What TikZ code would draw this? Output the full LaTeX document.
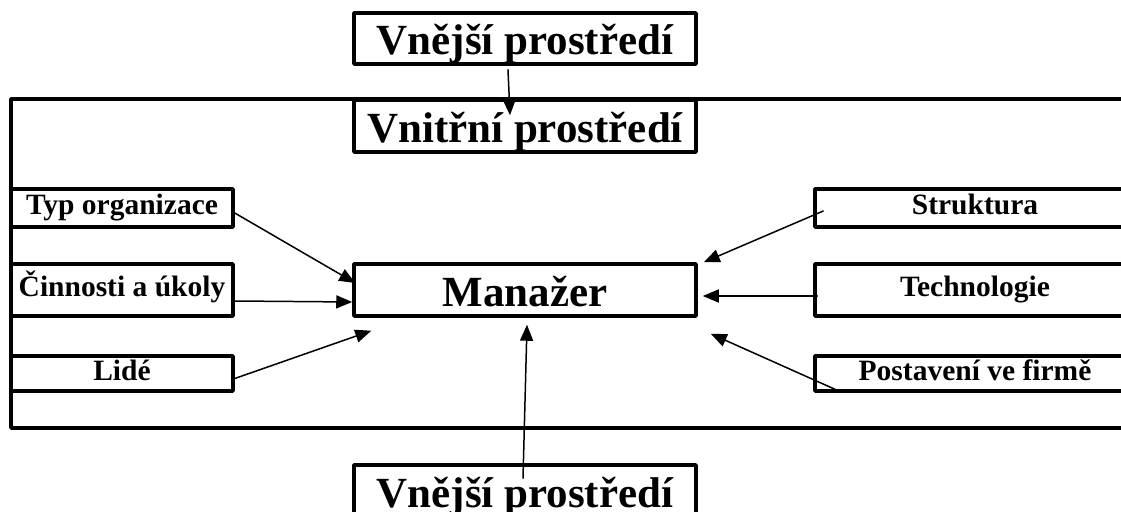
\documentclass[tikz,border=0pt]{standalone}
\usepackage{fontspec}
\setmainfont{Liberation Serif}
\usetikzlibrary{arrows.meta}
\tikzset{
  malybox/.style={draw,line width=3.5bp,inner sep=0pt,text height=20bp,text depth=6bp,
    font=\fontsize{29.5bp}{34bp}\selectfont\bfseries},
  velkybox/.style={draw,line width=3.5bp,inner sep=0pt,text height=33bp,text depth=0bp,
    font=\fontsize{43bp}{48bp}\selectfont\bfseries},
  sipka/.style={->,line width=1.5bp}
}
\begin{document}
\begin{tikzpicture}[x=1bp,y=-1bp,line cap=round,line join=round,>={Triangle[length=16bp,width=13bp]}]
        \useasboundingbox (0,0) rectangle (1121,512);
        \clip (0,0) rectangle (1121,512);
        % vnitrni prostredi
        \draw[line width=3.5bp] (11,99) rectangle (1140,428);
        \node[velkybox,minimum width=342bp,minimum height=51bp] (vnejsi) at (525,38.5) {Vnější prostředí};
        \node[velkybox,minimum width=342bp,minimum height=52bp] (vnitrni) at (525,126) {Vnitřní prostředí};
        \node[velkybox,minimum width=342bp,minimum height=52bp] (manazer) at (525,290) {Manažer};
        \node[velkybox,minimum width=342bp,minimum height=52bp] (vnejsidole) at (525,491) {Vnější prostředí};
        % vlevo
        \node[malybox,minimum width=222bp,minimum height=38bp] (typ) at (122,208) {Typ organizace};
        \node[malybox,minimum width=222bp,minimum height=52bp] (cinnosti) at (122,290) {Činnosti a úkoly};
        \node[malybox,minimum width=222bp,minimum height=35bp] (lide) at (122,373.5) {Lidé};
        % vpravo
        \node[malybox,minimum width=320bp,minimum height=38bp] (struktura) at (975,208) {Struktura};
        \node[malybox,minimum width=320bp,minimum height=52bp] (technologie) at (975,290) {Technologie};
        \node[malybox,minimum width=320bp,minimum height=35bp] (postaveni) at (975,373.5) {Postavení ve firmě};
        % sipky
        \draw[sipka] ([xshift=-17bp,yshift=-4bp]vnejsi.south) -- ([xshift=-15bp,yshift=-17bp]vnitrni.north);
        \draw[sipka] ([yshift=-5bp]typ.east) -- ([xshift=3bp,yshift=7bp]manazer.west);
        \draw[sipka] ([yshift=-11bp]cinnosti.east) -- ([yshift=-12bp]manazer.west);
        \draw[sipka] ([yshift=-5bp]lide.east) -- ([xshift=19bp,yshift=-13bp]manazer.south west);
        \draw[sipka] ([xshift=10bp,yshift=-3bp]struktura.west) -- ([xshift=6bp]manazer.north east);
        \draw[sipka] ([xshift=4bp,yshift=-6bp]technologie.west) -- ([xshift=5bp,yshift=-6bp]manazer.east);
        \draw[sipka] ([xshift=25bp,yshift=2bp]postaveni.south west) -- ([xshift=13bp,yshift=-16bp]manazer.south east);
        \draw[sipka] ([xshift=-2bp,yshift=-15bp]vnejsidole.north) -- ([xshift=2bp,yshift=-7bp]manazer.south);
      \end{tikzpicture}
\end{document}
